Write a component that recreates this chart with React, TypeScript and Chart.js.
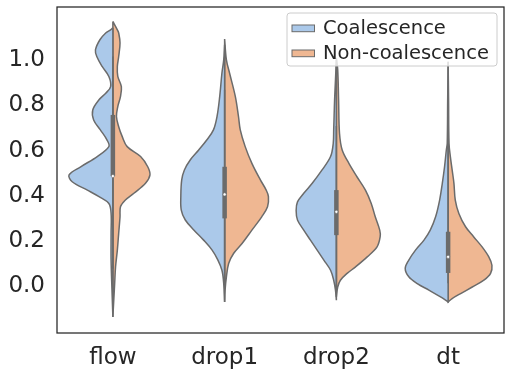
import React, { useEffect, useRef } from "react";
import { Chart, registerables } from "chart.js";

Chart.register(...registerables);

const categories = ["flow", "drop1", "drop2", "dt"];
const hueNames = ["Coalescence", "Non-coalescence"];
const yTickValues = [0, 0.2, 0.4, 0.6, 0.8, 1.0];

// Kernel density outlines: value levels (top to bottom) and relative density (1 = widest)
const flowCoalY = [1.134, 1.125, 1.111, 1.081, 1.036, 1.007, 0.963, 0.919, 0.874, 0.845, 0.816, 0.771, 0.727, 0.683, 0.638, 0.609, 0.565, 0.52, 0.484, 0.454, 0.417, 0.388, 0.358, 0.314, 0.227, 0.108, -0.025, -0.143];
const flowCoalD = [0, 0.05, 0.16, 0.29, 0.39, 0.36, 0.24, 0.09, 0.05, 0.16, 0.31, 0.45, 0.43, 0.28, 0.13, 0.09, 0.35, 0.72, 0.98, 0.91, 0.57, 0.31, 0.09, 0.04, 0.04, 0.04, 0.02, 0];
const flowNonY = [1.162, 1.125, 1.111, 1.067, 1.007, 0.963, 0.919, 0.874, 0.83, 0.786, 0.742, 0.697, 0.653, 0.609, 0.565, 0.52, 0.484, 0.447, 0.403, 0.373, 0.343, 0.299, 0.226, 0.152, 0.078, 0.004, -0.069, -0.143];
const flowNonD = [0, 0.1, 0.13, 0.16, 0.13, 0.1, 0.11, 0.19, 0.17, 0.11, 0.08, 0.13, 0.21, 0.32, 0.62, 0.78, 0.83, 0.73, 0.47, 0.28, 0.17, 0.16, 0.13, 0.1, 0.06, 0.04, 0.02, 0];

const drop1CoalY = [1.059, 0.992, 0.934, 0.83, 0.742, 0.683, 0.638, 0.594, 0.55, 0.506, 0.462, 0.388, 0.329, 0.285, 0.241, 0.196, 0.152, 0.108, 0.063, 0.004, -0.077];
const drop1CoalD = [0, 0.02, 0.06, 0.11, 0.17, 0.25, 0.4, 0.58, 0.77, 0.9, 0.96, 0.98, 0.97, 0.88, 0.69, 0.47, 0.28, 0.15, 0.06, 0.02, 0];
const drop1NonY = [1.084, 0.992, 0.934, 0.83, 0.742, 0.683, 0.609, 0.535, 0.462, 0.417, 0.388, 0.343, 0.299, 0.24, 0.181, 0.137, 0.093, 0.034, -0.025, -0.077];
const drop1NonD = [0, 0.04, 0.11, 0.24, 0.31, 0.35, 0.46, 0.61, 0.8, 0.93, 0.98, 0.96, 0.83, 0.61, 0.39, 0.2, 0.09, 0.04, 0.01, 0];

const drop2CoalY = [0.992, 0.904, 0.815, 0.749, 0.683, 0.624, 0.565, 0.506, 0.447, 0.403, 0.365, 0.327, 0.285, 0.24, 0.196, 0.152, 0.108, 0.063, 0.019, -0.025, -0.069];
const drop2CoalD = [0, 0.02, 0.04, 0.05, 0.06, 0.07, 0.13, 0.32, 0.54, 0.73, 0.87, 0.9, 0.87, 0.73, 0.58, 0.43, 0.28, 0.13, 0.06, 0.02, 0];
const drop2NonY = [1.001, 0.948, 0.815, 0.668, 0.594, 0.535, 0.476, 0.417, 0.358, 0.299, 0.24, 0.211, 0.166, 0.122, 0.078, 0.049, 0.019, -0.011, -0.055];
const drop2NonD = [0, 0.03, 0.05, 0.07, 0.13, 0.28, 0.46, 0.65, 0.78, 0.87, 0.97, 0.98, 0.91, 0.69, 0.43, 0.24, 0.09, 0.03, 0];

const dtCoalY = [0.984, 0.815, 0.624, 0.594, 0.52, 0.447, 0.373, 0.299, 0.24, 0.196, 0.152, 0.108, 0.071, 0.034, 0.004, -0.025, -0.055, -0.077];
const dtCoalD = [0, 0.01, 0.02, 0.04, 0.08, 0.13, 0.19, 0.28, 0.4, 0.54, 0.73, 0.88, 0.96, 0.88, 0.69, 0.43, 0.17, 0];
const dtNonY = [0.984, 0.815, 0.624, 0.565, 0.506, 0.447, 0.373, 0.314, 0.255, 0.211, 0.166, 0.122, 0.085, 0.049, 0.019, -0.011, -0.04, -0.062, -0.077];
const dtNonD = [0, 0.01, 0.02, 0.05, 0.09, 0.13, 0.16, 0.24, 0.39, 0.57, 0.76, 0.91, 0.98, 0.95, 0.8, 0.54, 0.28, 0.09, 0];

// Inner box statistics per category
const boxQ1 = [0.479, 0.292, 0.218, 0.051];
const boxMedian = [0.479, 0.398, 0.321, 0.122];
const boxQ3 = [0.749, 0.52, 0.417, 0.233];
const whiskerLow = [0.07, 0.0, -0.02, 0.006];
const whiskerHigh = [1.007, 0.86, 0.7, 0.624];

const outlines = [
  [[flowCoalY, flowCoalD], [flowNonY, flowNonD]],
  [[drop1CoalY, drop1CoalD], [drop1NonY, drop1NonD]],
  [[drop2CoalY, drop2CoalD], [drop2NonY, drop2NonD]],
  [[dtCoalY, dtCoalD], [dtNonY, dtNonD]],
];

const HUE_COLORS = ["#abc9ea", "#efb792"];
const GRAY = "#6b6b6b";
const TEXT = "#262626";
const FONT = "DejaVu Sans";
const HALF_WIDTH = 0.4;

function halfViolin(center: number, ys: number[], ds: number[], side: number) {
  const edge = ys.map((y, k) => ({ x: center + side * ds[k] * HALF_WIDTH, y }));
  const back = ys.slice().reverse().map((y) => ({ x: center, y }));
  return edge.concat(back);
}

const framePlugin = {
  id: "frame",
  afterDatasetsDraw(chart: any) {
    const { ctx, chartArea } = chart;
    ctx.save();
    ctx.strokeStyle = TEXT;
    ctx.lineWidth = 1.25;
    ctx.strokeRect(chartArea.left, chartArea.top, chartArea.right - chartArea.left, chartArea.bottom - chartArea.top);
    ctx.restore();
  },
};

const legendPlugin = {
  id: "violinLegend",
  afterDraw(chart: any) {
    const { ctx, chartArea } = chart;
    const w = 210;
    const h = 53;
    const x0 = chartArea.right - 217;
    const y0 = chartArea.top + 6;
    ctx.save();
    ctx.beginPath();
    const r = 3;
    ctx.moveTo(x0 + r, y0);
    ctx.arcTo(x0 + w, y0, x0 + w, y0 + h, r);
    ctx.arcTo(x0 + w, y0 + h, x0, y0 + h, r);
    ctx.arcTo(x0, y0 + h, x0, y0, r);
    ctx.arcTo(x0, y0, x0 + w, y0, r);
    ctx.closePath();
    ctx.fillStyle = "rgba(255,255,255,0.8)";
    ctx.fill();
    ctx.strokeStyle = "#cccccc";
    ctx.lineWidth = 1;
    ctx.stroke();
    ctx.font = `19.5px "${FONT}"`;
    ctx.textBaseline = "alphabetic";
    ctx.textAlign = "left";
    hueNames.forEach((name, k) => {
      const py = y0 + 12 + k * 25;
      ctx.fillStyle = HUE_COLORS[k];
      ctx.fillRect(x0 + 5, py, 22.5, 6.7);
      ctx.strokeStyle = GRAY;
      ctx.lineWidth = 1;
      ctx.strokeRect(x0 + 5, py, 22.5, 6.7);
      ctx.fillStyle = TEXT;
      ctx.fillText(name, x0 + 36, y0 + 21.2 + k * 25);
    });
    ctx.restore();
  },
};

export default function App() {
  const canvasRef = useRef<HTMLCanvasElement | null>(null);

  useEffect(() => {
    if (!canvasRef.current) return;
    const datasets: any[] = [];
    categories.forEach((_, i) => {
      outlines[i].forEach(([ys, ds], h) => {
        datasets.push({
          label: `${categories[i]} ${hueNames[h]}`,
          data: halfViolin(i, ys as number[], ds as number[], h === 0 ? -1 : 1),
          borderColor: GRAY,
          backgroundColor: HUE_COLORS[h],
          borderWidth: 1.5,
          fill: "shape",
          tension: 0.35,
          pointRadius: 0,
          order: 3,
        });
      });
      datasets.push({
        label: `${categories[i]} whisker`,
        data: [{ x: i, y: whiskerLow[i] }, { x: i, y: whiskerHigh[i] }],
        borderColor: GRAY,
        borderWidth: 1.5,
        fill: false,
        pointRadius: 0,
        order: 2,
      });
      datasets.push({
        label: `${categories[i]} box`,
        data: [{ x: i, y: boxQ1[i] }, { x: i, y: boxQ3[i] }],
        borderColor: GRAY,
        borderWidth: 4.5,
        borderCapStyle: "butt",
        fill: false,
        pointRadius: 0,
        order: 1,
      });
      datasets.push({
        label: `${categories[i]} median`,
        data: [{ x: i, y: boxMedian[i] }],
        showLine: false,
        pointRadius: 1.6,
        pointBackgroundColor: "#ffffff",
        pointBorderColor: GRAY,
        pointBorderWidth: 0.6,
        order: 0,
      });
    });

    const chart = new Chart(canvasRef.current, {
      type: "line",
      data: { datasets },
      options: {
        animation: false,
        responsive: false,
        layout: { padding: { left: 0, right: 6, top: 7, bottom: 0 } },
        plugins: { legend: { display: false }, tooltip: { enabled: false } },
        scales: {
          x: {
            type: "linear",
            min: -0.5,
            max: 3.5,
            grid: { display: false, drawTicks: false },
            border: { display: false },
            afterBuildTicks: (scale: any) => {
              scale.ticks = categories.map((_, i) => ({ value: i }));
            },
            afterFit: (scale: any) => {
              scale.height = 41;
              scale.paddingLeft = 0;
              scale.paddingRight = 0;
            },
            ticks: {
              autoSkip: false,
              maxRotation: 0,
              padding: 11,
              color: TEXT,
              font: { family: FONT, size: 23 },
              callback: (v: any) => categories[Math.round(Number(v))] ?? "",
            },
          },
          y: {
            type: "linear",
            min: -0.2142,
            max: 1.2257,
            grid: { display: false, drawTicks: false },
            border: { display: false },
            afterBuildTicks: (scale: any) => {
              scale.ticks = yTickValues.map((v) => ({ value: v }));
            },
            afterFit: (scale: any) => {
              scale.width = 57;
              scale.paddingTop = 0;
              scale.paddingBottom = 0;
            },
            ticks: {
              autoSkip: false,
              padding: 12,
              labelOffset: 2,
              color: TEXT,
              font: { family: FONT, size: 23 },
              callback: (v: any) => Number(v).toFixed(1),
            },
          },
        },
      },
      plugins: [framePlugin, legendPlugin],
    });
    return () => chart.destroy();
  }, []);

  return (
    <div style={{ position: "absolute", left: 0, top: 0, width: 510, height: 374, background: "#ffffff" }}>
      <canvas ref={canvasRef} width={510} height={374} style={{ display: "block" }} />
    </div>
  );
}
